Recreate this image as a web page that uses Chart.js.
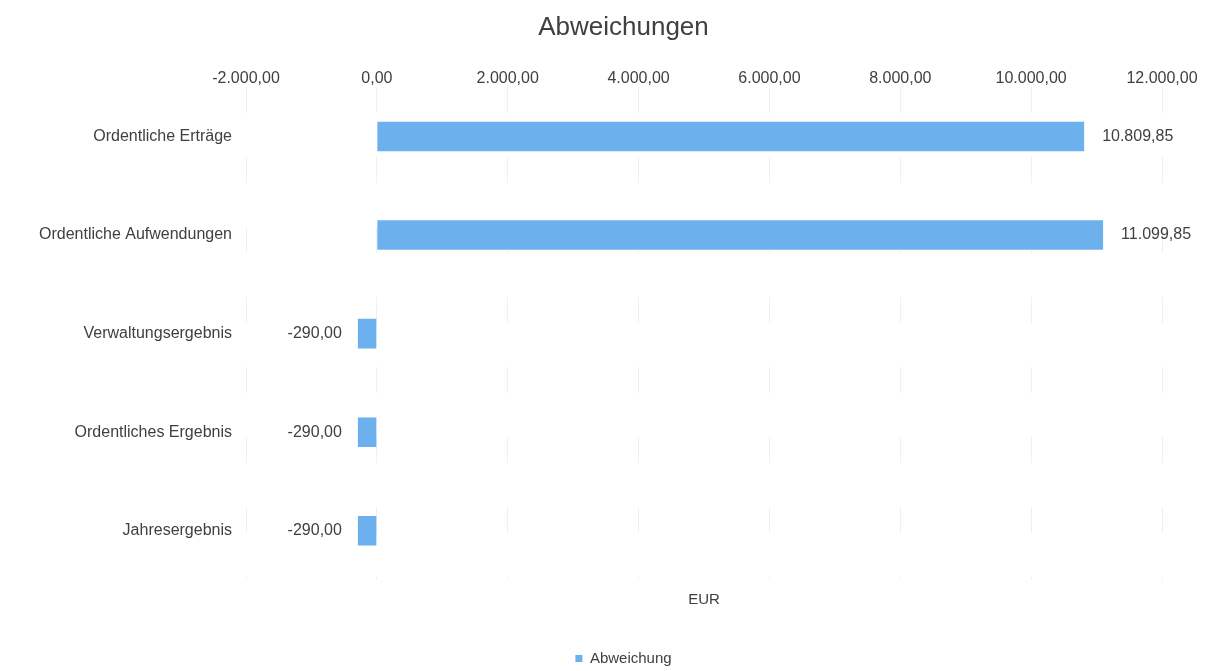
<!DOCTYPE html>
<html>
<head>
<meta charset="utf-8">
<script src="https://cdn.jsdelivr.net/npm/chart.js@4/dist/chart.umd.min.js"></script>
<style>
  html, body { margin: 0; padding: 0; background: #fff; }
  #wrap { width: 1227px; height: 671px; }
</style>
</head>
<body>
<div id="wrap"><canvas id="chart"></canvas></div>
<script>
const categories = ['Ordentliche Erträge', 'Ordentliche Aufwendungen', 'Verwaltungsergebnis', 'Ordentliches Ergebnis', 'Jahresergebnis'];
const abweichung = [10809.85, 11099.85, -290.00, -290.00, -290.00];
const xTickValues = [-2000, 0, 2000, 4000, 6000, 8000, 10000, 12000];

const FONT = '"Liberation Sans", Arial, sans-serif';
const TEXT = '#404040';
const BAR = '#6cb0ee';

Chart.defaults.font.family = FONT;
Chart.defaults.color = TEXT;

// 1234.5 -> "1.234,50"
function fmtDE(v) {
    const neg = v < 0;
    const [int, dec] = Math.abs(v).toFixed(2).split('.');
    const grouped = int.replace(/\B(?=(\d{3})+(?!\d))/g, '.');
    return (neg ? '-' : '') + grouped + ',' + dec;
}

// Werte neben die Balken schreiben
const valueLabels = {
    id: 'valueLabels',
    afterDatasetsDraw(chart) {
        const ctx = chart.ctx;
        const meta = chart.getDatasetMeta(0);
        ctx.save();
        ctx.font = '16px ' + FONT;
        ctx.fillStyle = TEXT;
        ctx.textBaseline = 'middle';
        meta.data.forEach((bar, i) => {
            const v = abweichung[i];
            if (v >= 0) {
                ctx.textAlign = 'left';
                ctx.fillText(fmtDE(v), bar.x + 18, bar.y);
            } else {
                ctx.textAlign = 'right';
                ctx.fillText(fmtDE(v), bar.x - 16, bar.y);
            }
        });
        ctx.restore();
    }
};

new Chart(document.getElementById('chart'), {
    type: 'bar',
    data: {
        labels: categories,
        datasets: [{
            label: 'Abweichung',
            data: abweichung,
            backgroundColor: BAR,
            borderWidth: 0,
            barPercentage: 0.3,
            categoryPercentage: 1.0
        }]
    },
    options: {
        indexAxis: 'y',
        responsive: true,
        maintainAspectRatio: false,
        animation: false,
        layout: { padding: { left: 20, right: 0, top: 0, bottom: 0 } },
        plugins: {
            title: {
                display: true,
                text: 'Abweichungen',
                color: TEXT,
                font: { size: 26, weight: 'normal' },
                padding: { top: 12, bottom: 22 }
            },
            legend: {
                position: 'bottom',
                maxHeight: 20,
                labels: { boxWidth: 7, boxHeight: 7, padding: 0, font: { size: 15 }, color: TEXT }
            },
            tooltip: { enabled: false }
        },
        scales: {
            x: {
                position: 'top',
                min: xTickValues[0],
                max: xTickValues[xTickValues.length - 1],
                afterBuildTicks(scale) { scale.ticks = xTickValues.map(v => ({ value: v })); },
                afterFit(scale) { scale.height = 22; },
                ticks: { padding: -1, font: { size: 16 }, color: TEXT, callback: v => fmtDE(v) },
                grid: { color: 'rgba(0,0,0,0.06)', drawTicks: false },
                border: { display: false, dash: [26, 44] }
            },
            x2: {
                position: 'bottom',
                min: xTickValues[0],
                max: xTickValues[xTickValues.length - 1],
                ticks: { display: false },
                grid: { display: false },
                border: { display: false },
                title: { display: true, text: 'EUR', color: TEXT, font: { size: 15 }, padding: { top: 3, bottom: 42 } }
            },
            y: {
                afterFit(scale) { scale.width = 226; },
                ticks: { padding: 14, font: { size: 16 }, color: TEXT },
                grid: { display: false, drawTicks: false },
                border: { display: false }
            },
            // leerer Rand rechts für die Wertbeschriftungen
            y2: {
                type: 'category',
                position: 'right',
                afterFit(scale) { scale.width = 65; },
                ticks: { display: false },
                grid: { display: false, drawTicks: false },
                border: { display: false }
            }
        }
    },
    plugins: [valueLabels]
});
</script>
</body>
</html>
